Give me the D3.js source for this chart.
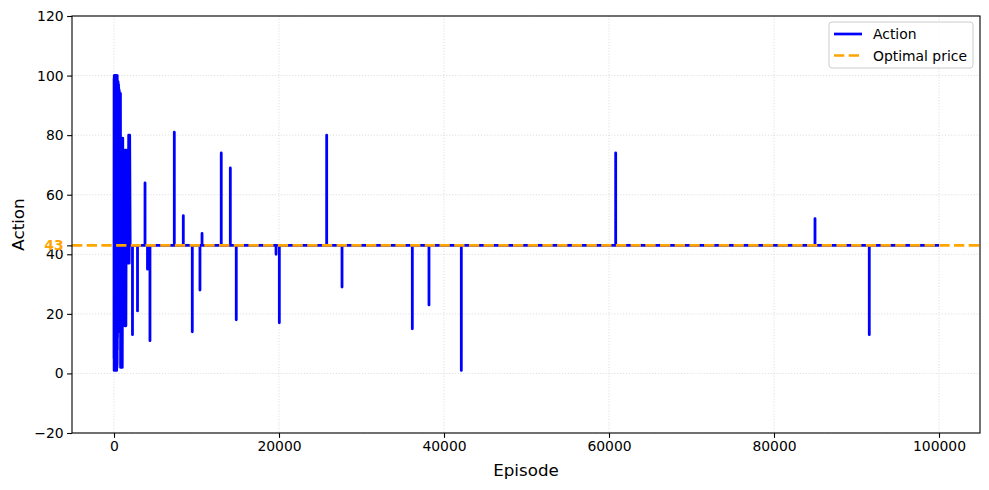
<!DOCTYPE html>
<html>
<head>
<meta charset="utf-8">
<script src="https://cdn.jsdelivr.net/npm/d3@7"></script>
<style>
body { margin: 0; background: #fff; }
text { font-family: "DejaVu Sans", sans-serif; }
</style>
</head>
<body>
<script>
// optimal price (horizontal reference) and action series
const optimalPrice = 43;
const lastEpisode = 100000;

// episodes where the action differs from the baseline (43 everywhere else)
const episodes = [0,10,20,30,40,50,60,70,80,90,100,110,120,130,140,150,160,170,180,190,
  200,210,220,230,240,250,260,270,280,290,300,310,320,330,340,350,360,370,380,390,
  400,410,420,430,440,450,460,470,480,490,500,510,520,530,540,550,560,570,580,590,600,610,
  620,630,640,650,660,670,680,690,700,710,720,730,740,750,760,770,780,790,
  800,850,900,950,1000,1060,1120,
  1320,1380,1440,1500,1560,1720,1780,1840,1900,1960,2240,2850,3760,4060,4360,
  7310,8400,9490,10420,10670,13000,14100,14820,19640,20040,25780,27640,
  36160,38180,42100,60810,84970,91550];
const actions = [5,99,1,100,3,100,1,99,2,100,1,98,4,100,1,99,6,100,2,99,
  1,100,3,99,2,100,1,98,5,100,2,99,1,100,4,98,2,99,3,100,
  8,98,12,97,15,98,20,96,15,98,25,97,14,95,30,97,18,96,15,94,22,95,
  94,20,95,56,94,56,94,30,94,56,94,15,94,56,94,56,94,56,
  2,79,2,79,2,79,43,
  16,75,16,75,43,37,80,37,80,43,13,21,64,35,11,
  81,53,14,28,47,74,69,18,40,17,80,29,
  15,23,1,74,52,13];

const xTicks = [0, 20000, 40000, 60000, 80000, 100000];
const yTicks = [-20, 0, 20, 40, 60, 80, 100, 120];

const width = 989, height = 490;
const margin = {top: 16, right: 9, bottom: 57, left: 72};

const svg = d3.select("body").append("svg")
    .attr("width", width)
    .attr("height", height);

const x = d3.scaleLinear().domain([-5000, 105000]).range([72.75, 980.25]);
const y = d3.scaleLinear().domain([-20, 120]).range([height - margin.bottom, margin.top]);

// build the full series: back to the baseline between isolated points
let data = [];
episodes.forEach(function(ep, i) {
    let prev = episodes[i - 1], next = episodes[i + 1];
    if (i > 0 && ep - prev > 100) data.push([ep - 1, optimalPrice]);
    data.push([ep, actions[i]]);
    if (next === undefined || next - ep > 100) data.push([ep + 1, optimalPrice]);
});
data.push([lastEpisode, optimalPrice]);

svg.append("clipPath").attr("id", "clip")
  .append("rect")
    .attr("x", margin.left).attr("y", margin.top)
    .attr("width", width - margin.left - margin.right)
    .attr("height", height - margin.top - margin.bottom);

// grid
const grid = svg.append("g")
    .attr("stroke", "#b0b0b0").attr("stroke-opacity", 0.55)
    .attr("stroke-width", 0.8).attr("stroke-dasharray", "1.1,1.8");
grid.selectAll(".gx").data(xTicks).enter().append("line")
    .attr("x1", d => x(d)).attr("x2", d => x(d))
    .attr("y1", margin.top).attr("y2", height - margin.bottom);
grid.selectAll(".gy").data(yTicks).enter().append("line")
    .attr("x1", margin.left).attr("x2", width - margin.right)
    .attr("y1", d => y(d)).attr("y2", d => y(d));

const plot = svg.append("g").attr("clip-path", "url(#clip)");

plot.append("path")
    .datum(data)
    .attr("fill", "none")
    .attr("stroke", "blue")
    .attr("stroke-width", 2.8)
    .attr("stroke-linejoin", "round")
    .attr("d", d3.line().x(d => x(d[0])).y(d => y(d[1])));

plot.append("line")
    .attr("x1", margin.left).attr("x2", width - margin.right)
    .attr("y1", y(optimalPrice)).attr("y2", y(optimalPrice))
    .attr("stroke", "orange")
    .attr("stroke-width", 2.7)
    .attr("stroke-dasharray", "10.3,4.4");

// axes
const xAxis = svg.append("g")
    .attr("transform", `translate(0,${height - margin.bottom})`)
    .call(d3.axisBottom(x).tickValues(xTicks).tickFormat(d3.format("d")).tickSize(4.9).tickPadding(3.5));
const yAxis = svg.append("g")
    .attr("transform", `translate(${margin.left},0)`)
    .call(d3.axisLeft(y).tickValues(yTicks).tickSize(4.9).tickPadding(3.5));
const optAxis = svg.append("g")
    .attr("transform", `translate(${margin.left},0)`)
    .call(d3.axisLeft(y).tickValues([optimalPrice]).tickSize(4.9).tickPadding(3.5));

[xAxis, yAxis, optAxis].forEach(function(g) {
    g.select(".domain").remove();
    g.selectAll("line").attr("stroke", "#000").attr("stroke-width", 1.1);
    g.selectAll("text").attr("font-size", 13.9).attr("fill", "#000")
      .style("font-family", "DejaVu Sans");
});
optAxis.selectAll("text").attr("fill", "orange").attr("font-weight", "bold");

// frame
svg.append("rect")
    .attr("x", margin.left).attr("y", margin.top)
    .attr("width", width - margin.left - margin.right)
    .attr("height", height - margin.top - margin.bottom)
    .attr("fill", "none").attr("stroke", "#000").attr("stroke-width", 1.1);

// axis labels
svg.append("text")
    .attr("x", (margin.left + width - margin.right) / 2)
    .attr("y", 476)
    .attr("text-anchor", "middle")
    .attr("font-size", 16.7)
    .text("Episode");
svg.append("text")
    .attr("transform", `translate(24,${(margin.top + height - margin.bottom) / 2}) rotate(-90)`)
    .attr("text-anchor", "middle")
    .attr("font-size", 16.7)
    .text("Action");

// legend
const legend = svg.append("g");
legend.append("rect")
    .attr("x", 829).attr("y", 22).attr("width", 144).attr("height", 46).attr("rx", 3)
    .attr("fill", "#fff").attr("fill-opacity", 0.8)
    .attr("stroke", "#ccc").attr("stroke-width", 1);
const items = [
    {label: "Action", color: "blue", dash: null},
    {label: "Optimal price", color: "orange", dash: "10.3,4.4"}
];
items.forEach(function(it, i) {
    let ly = 34 + i * 21.5;
    legend.append("line")
        .attr("x1", 834).attr("x2", 862).attr("y1", ly).attr("y2", ly)
        .attr("stroke", it.color).attr("stroke-width", 2.7)
        .attr("stroke-dasharray", it.dash);
    legend.append("text")
        .attr("x", 873).attr("y", ly + 5)
        .attr("font-size", 13.9)
        .text(it.label);
});
</script>
</body>
</html>
